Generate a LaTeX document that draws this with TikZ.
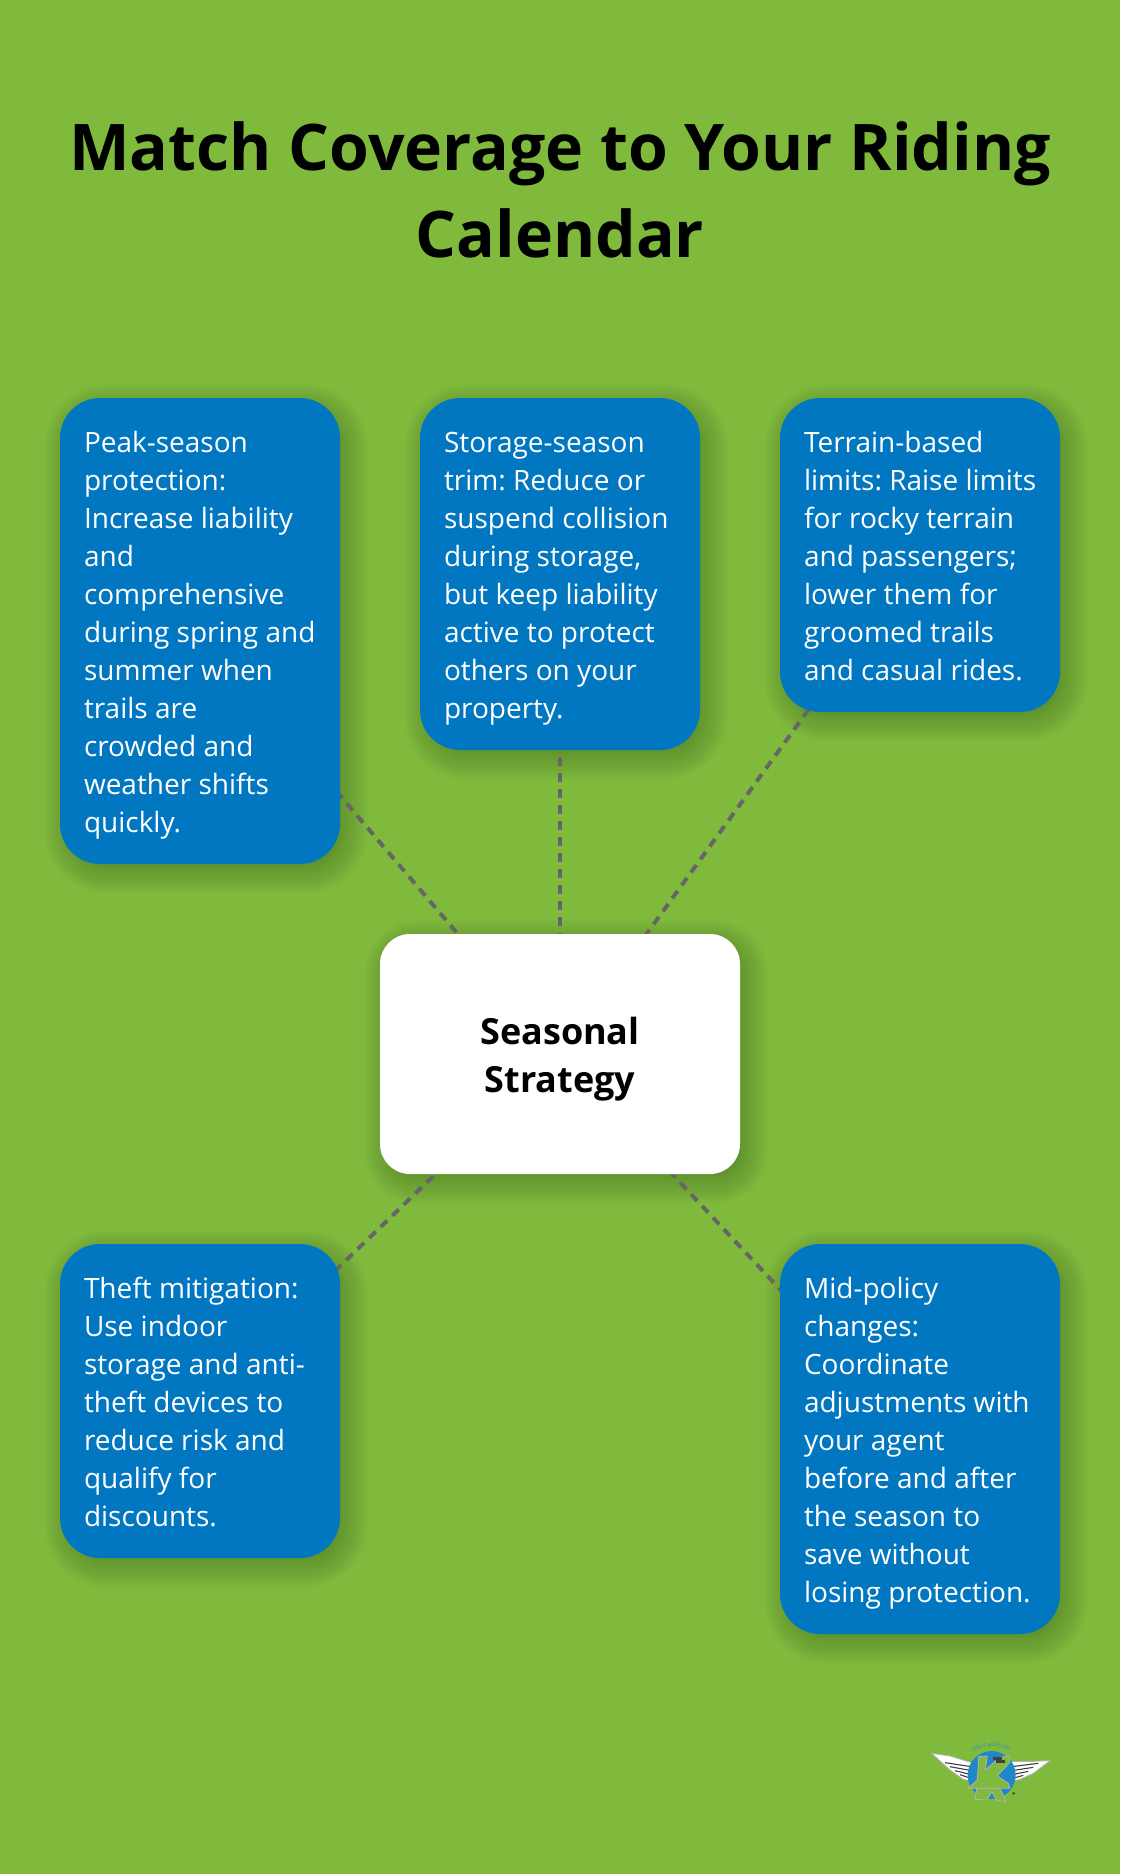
\documentclass[tikz,border=0pt]{standalone}
\usepackage{fontspec}
\setmainfont{Open Sans}
\usetikzlibrary{positioning}
\usetikzlibrary{backgrounds}
\usetikzlibrary{decorations.text}
\definecolor{pagegreen}{HTML}{7FBA3D}
\definecolor{boxblue}{HTML}{0277C1}
\definecolor{dashgray}{HTML}{666666}
\definecolor{logoblue}{HTML}{1E88C8}

\begin{document}
\begin{tikzpicture} [x=1pt, y=-1pt, every node/.style = {outer sep=0pt},
        tip/.style = {fill=boxblue, rounded corners=40pt, text=white, text width=232pt, inner xsep=24pt, inner ysep=24pt, align=left,
            font=\fontsize{28}{38}\selectfont\frenchspacing,
            execute at begin node={\spaceskip=7.3pt\rightskip=-12pt plus 1fil\relax\rule[-8pt]{0pt}{38pt}}, execute at end node={\rule[-8pt]{0pt}{38pt}}},
        hub/.style = {fill=white, rounded corners=30pt, minimum width=360pt, minimum height=240pt, align=center,
            font=\fontsize{36}{48}\selectfont\bfseries},
        heading/.style = {align=center, font=\fontsize{64.3}{87}\selectfont\bfseries},
        spoke/.style = {draw=dashgray, line width=4pt, dash pattern=on 9pt off 7pt},
        feather/.style = {draw=black!75, line width=1.1pt},
        logopart/.style = {draw=gray!60, line width=0.8pt}]
        %Boxes
        \node[heading] (title) at (560,190) {Match Coverage to Your Riding\\Calendar};

        \node[tip] (peak) at (200,631) {Peak-season\\protection:\\Increase liability\\and\\comprehensive\\during spring and\\summer when\\trails are\\crowded and\\weather shifts\\quickly.};
        \node[tip] (storage) [below right = 0pt and 80pt of peak.north east] {Storage-season\\trim: Reduce or\\suspend collision\\during storage,\\but keep liability\\active to protect\\others on your\\property.};
        \node[tip] (terrain) [below right = 0pt and 80pt of storage.north east] {Terrain-based\\limits: Raise limits\\for rocky terrain\\and passengers;\\lower them for\\groomed trails\\and casual rides.};

        \node[hub] (center) [below = 184pt of storage] {\rule{0pt}{37pt}Seasonal\\Strategy};

        \node[tip] (theft) [below = 380pt of peak] {Theft mitigation:\\Use indoor\\storage and anti-\\theft devices to\\reduce risk and\\qualify for\\discounts.};
        \node[tip] (midpolicy) [below = 532pt of terrain] {Mid-policy\\changes:\\Coordinate\\adjustments with\\your agent\\before and after\\the season to\\save without\\losing protection.};

        \begin{scope}[on background layer]
            \fill[pagegreen] (0,0) rectangle (1120,1874);
            %Shadows
            \foreach \name/\rad in {peak/40, storage/40, terrain/40, theft/40, midpolicy/40, center/30} {
                \foreach \spread in {-22,-20,...,22} {
                    \fill[black, opacity=0.012, rounded corners=\rad pt+\spread pt]
                        ([xshift=6pt-\spread pt, yshift=-8pt+\spread pt]\name.north west)
                        rectangle ([xshift=6pt+\spread pt, yshift=-8pt-\spread pt]\name.south east);
                }
            }
            %Spokes
            \draw[spoke] (center.center) -- (peak.center);
            \draw[spoke] (center.center) -- (storage.center);
            \draw[spoke] (center.center) -- (terrain.center);
            \draw[spoke] (center.center) -- (theft.center);
            \draw[spoke] (center.center) -- (midpolicy.center);
        \end{scope}

        %Logo
        \begin{scope}[shift={(900,1720)}, x=0.3333pt, y=-0.3333pt]
            \fill[white, logopart] (95,100) -- (150,108) -- (215,128) -- (222,185) -- (190,178) -- (150,150) -- cycle;
            \fill[white, logopart] (450,122) -- (395,124) -- (330,125) -- (328,185) -- (360,178) -- (400,160) -- cycle;
            \foreach \a/\b in {135/128, 150/140, 165/152, 180/164} {
                \draw[feather] (\a,\b) -- (215,\b+12);
                \draw[feather] (550-\a,\b+2) -- (335,\b+12);
            }
            \fill[logoblue] (275,165) circle (72);
            \fill[pagegreen, logopart] (236,110) -- (262,108) -- (256,150) -- (300,112) -- (330,108) -- (328,128) -- (292,168) -- (325,190) -- (330,205) -- (205,205) -- (232,180) -- cycle;
            \foreach \i in {0,1,2} {
                \foreach \j in {0,1} {
                    \fill[black!75] (278+\i*9+\j*9,112+\j*9) rectangle ++(9,9);
                }
            }
            \fill[pagegreen, logopart] (230,205) -- (300,205) -- (318,245) -- (290,240) -- (275,215) -- (262,240) -- (225,238) -- cycle;
            \fill[black!75] (341,220) circle (4);
            \path[decorate, decoration={text along path, text={|\fontsize{5}{5}\selectfont\color{logoblue}|LESLIE KOF'S INC}, text align=center}] (195,112) .. controls (235,70) and (315,70) .. (350,112);
        \end{scope}
    \end{tikzpicture}
\end{document}
